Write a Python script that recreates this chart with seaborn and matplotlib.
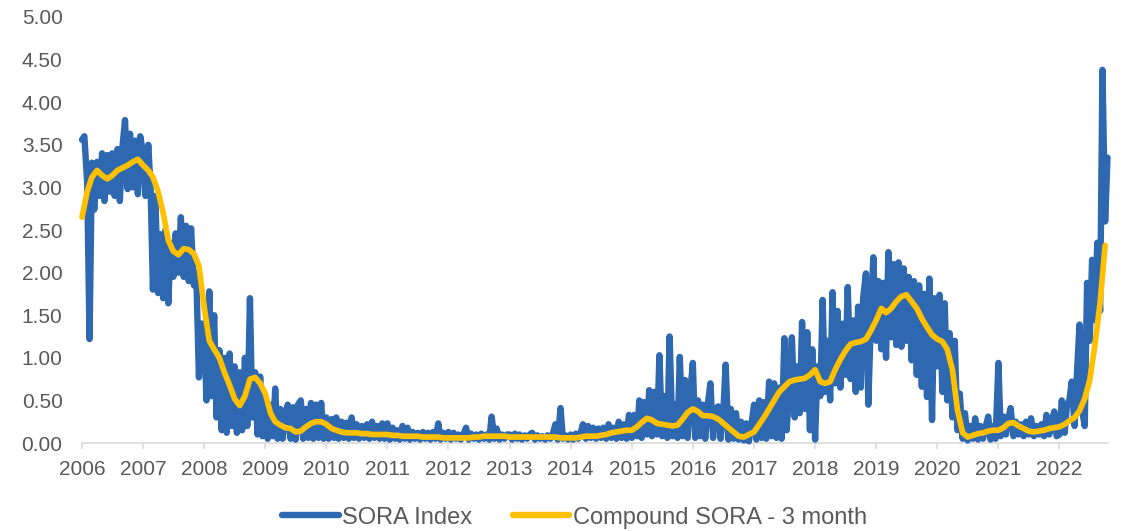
# SORA index vs compound SORA (3 month)

import pandas as pd
import numpy as np
import matplotlib.pyplot as plt
import matplotlib.dates as mdates
import seaborn as sns

# SORA index: two readings per month (1st and 15th)
sora_2006 = [3.56, 3.60, 3.05, 1.22, 3.29, 2.74, 3.30, 2.90, 3.40, 2.84, 3.38, 2.95,
             3.40, 2.90, 3.45, 2.84, 3.50, 3.79, 2.98, 3.63, 3.00, 3.55, 2.92, 3.60]
sora_2007 = [3.40, 2.90, 3.50, 3.00, 1.80, 2.90, 1.76, 2.45, 1.70, 2.50, 1.64, 2.35,
             1.95, 2.46, 2.00, 2.65, 1.95, 2.55, 1.90, 2.52, 1.85, 2.00, 0.77, 1.40]
sora_2008 = [1.40, 0.50, 1.78, 0.55, 1.50, 0.30, 1.09, 0.15, 1.00, 0.12, 1.05, 0.20,
             0.90, 0.12, 0.83, 0.15, 1.00, 0.20, 1.70, 0.30, 0.83, 0.10, 0.78, 0.08]
sora_2009 = [0.50, 0.05, 0.45, 0.08, 0.64, 0.05, 0.40, 0.05, 0.35, 0.45, 0.05, 0.42,
             0.04, 0.45, 0.50, 0.05, 0.40, 0.06, 0.47, 0.05, 0.45, 0.06, 0.47, 0.05]
sora_2010 = [0.30, 0.05, 0.28, 0.06, 0.30, 0.05, 0.25, 0.06, 0.24, 0.05, 0.30, 0.06,
             0.22, 0.05, 0.20, 0.06, 0.22, 0.05, 0.25, 0.06, 0.20, 0.05, 0.23, 0.05]
sora_2011 = [0.23, 0.04, 0.18, 0.05, 0.15, 0.04, 0.20, 0.05, 0.18, 0.04, 0.13, 0.05,
             0.12, 0.04, 0.13, 0.05, 0.12, 0.04, 0.13, 0.05, 0.23, 0.04, 0.12, 0.05]
sora_2012 = [0.13, 0.04, 0.12, 0.05, 0.10, 0.04, 0.11, 0.18, 0.04, 0.11, 0.05, 0.10,
             0.04, 0.11, 0.05, 0.10, 0.04, 0.31, 0.05, 0.17, 0.04, 0.10, 0.05, 0.10]
sora_2013 = [0.10, 0.04, 0.11, 0.05, 0.10, 0.04, 0.09, 0.05, 0.10, 0.12, 0.04, 0.09,
             0.05, 0.08, 0.04, 0.09, 0.05, 0.10, 0.22, 0.04, 0.41, 0.05, 0.09, 0.04]
sora_2014 = [0.10, 0.04, 0.11, 0.05, 0.12, 0.22, 0.05, 0.20, 0.06, 0.18, 0.05, 0.17,
             0.06, 0.18, 0.05, 0.22, 0.06, 0.18, 0.05, 0.25, 0.06, 0.22, 0.05, 0.33]
sora_2015 = [0.06, 0.33, 0.08, 0.50, 0.06, 0.48, 0.10, 0.62, 0.08, 0.60, 0.10, 1.03,
             0.08, 0.55, 0.06, 1.25, 0.08, 0.45, 0.06, 1.01, 0.08, 0.74, 0.06, 0.55]
sora_2016 = [0.94, 0.06, 0.50, 0.08, 0.45, 0.05, 0.48, 0.70, 0.06, 0.40, 0.43, 0.05,
             0.35, 0.92, 0.04, 0.40, 0.05, 0.35, 0.04, 0.25, 0.03, 0.23, 0.02, 0.20]
sora_2017 = [0.45, 0.04, 0.50, 0.06, 0.48, 0.05, 0.72, 0.08, 0.70, 0.06, 0.65, 0.05,
             1.23, 0.15, 0.70, 1.24, 0.30, 0.90, 0.35, 1.42, 0.40, 1.30, 0.15, 1.10]
sora_2018 = [0.04, 0.90, 0.55, 1.68, 0.60, 1.20, 0.50, 1.77, 0.70, 1.55, 0.65, 1.40,
             0.80, 1.83, 0.75, 1.44, 0.60, 1.60, 0.65, 1.70, 1.99, 0.45, 1.50, 2.18]
sora_2019 = [1.20, 1.90, 1.10, 1.88, 1.00, 2.24, 1.24, 2.10, 1.15, 2.12, 1.13, 2.05,
             1.20, 1.95, 0.97, 1.90, 0.80, 1.85, 0.66, 1.75, 0.54, 1.93, 0.27, 1.70]
sora_2020 = [0.90, 1.74, 0.60, 1.64, 0.50, 1.29, 0.30, 1.20, 0.15, 0.58, 0.05, 0.35,
             0.03, 0.20, 0.05, 0.29, 0.04, 0.20, 0.05, 0.18, 0.31, 0.04, 0.20, 0.05]
sora_2021 = [0.94, 0.08, 0.31, 0.10, 0.28, 0.41, 0.08, 0.25, 0.10, 0.22, 0.08, 0.25,
             0.10, 0.29, 0.08, 0.20, 0.10, 0.22, 0.08, 0.33, 0.10, 0.25, 0.37, 0.08]
sora_2022 = [0.10, 0.50, 0.12, 0.45, 0.50, 0.72, 0.20, 0.80, 1.39, 0.40,
             0.20, 1.88, 1.20, 2.15, 1.44, 2.35, 1.55, 4.38, 2.60, 3.35]

# Compound SORA - 3 month, one reading per month
comp_2006 = [2.65, 2.95, 3.12, 3.20, 3.14, 3.10, 3.14, 3.20, 3.23, 3.26, 3.30, 3.33]
comp_2007 = [3.26, 3.20, 3.12, 2.95, 2.70, 2.38, 2.25, 2.21, 2.28, 2.27, 2.22, 2.08]
comp_2008 = [1.60, 1.20, 1.10, 1.00, 0.83, 0.68, 0.52, 0.44, 0.55, 0.75, 0.77, 0.70]
comp_2009 = [0.58, 0.35, 0.25, 0.21, 0.18, 0.17, 0.13, 0.14, 0.19, 0.23, 0.25, 0.25]
comp_2010 = [0.22, 0.17, 0.15, 0.13, 0.12, 0.12, 0.12, 0.11, 0.11, 0.10, 0.10, 0.10]
comp_2011 = [0.10, 0.09, 0.09, 0.08, 0.08, 0.08, 0.08, 0.07, 0.07, 0.07, 0.07, 0.06]
comp_2012 = [0.06, 0.06, 0.06, 0.06, 0.06, 0.07, 0.07, 0.08, 0.08, 0.08, 0.08, 0.08]
comp_2013 = [0.07, 0.07, 0.07, 0.07, 0.07, 0.07, 0.07, 0.07, 0.07, 0.07, 0.06, 0.06]
comp_2014 = [0.06, 0.06, 0.07, 0.08, 0.08, 0.08, 0.09, 0.10, 0.12, 0.13, 0.14, 0.15]
comp_2015 = [0.15, 0.19, 0.24, 0.29, 0.27, 0.23, 0.22, 0.21, 0.20, 0.21, 0.28, 0.36]
comp_2016 = [0.40, 0.37, 0.32, 0.32, 0.31, 0.28, 0.23, 0.18, 0.13, 0.08, 0.07, 0.10]
comp_2017 = [0.13, 0.22, 0.30, 0.40, 0.50, 0.60, 0.66, 0.72, 0.74, 0.75, 0.76, 0.80]
comp_2018 = [0.86, 0.72, 0.70, 0.72, 0.86, 0.98, 1.08, 1.16, 1.18, 1.19, 1.22, 1.32]
comp_2019 = [1.44, 1.58, 1.53, 1.58, 1.66, 1.72, 1.74, 1.66, 1.58, 1.46, 1.36, 1.27]
comp_2020 = [1.22, 1.19, 1.10, 0.86, 0.39, 0.12, 0.07, 0.09, 0.11, 0.12, 0.14, 0.15]
comp_2021 = [0.15, 0.18, 0.23, 0.24, 0.20, 0.17, 0.14, 0.13, 0.14, 0.15, 0.17, 0.18]
comp_2022 = [0.19, 0.22, 0.26, 0.30, 0.38, 0.52, 0.74, 1.15, 1.65, 2.32]

sora_years = [sora_2006, sora_2007, sora_2008, sora_2009, sora_2010, sora_2011,
              sora_2012, sora_2013, sora_2014, sora_2015, sora_2016, sora_2017,
              sora_2018, sora_2019, sora_2020, sora_2021, sora_2022]
comp_years = [comp_2006, comp_2007, comp_2008, comp_2009, comp_2010, comp_2011,
              comp_2012, comp_2013, comp_2014, comp_2015, comp_2016, comp_2017,
              comp_2018, comp_2019, comp_2020, comp_2021, comp_2022]

sora_vals = [v for yr in sora_years for v in yr]
comp_vals = [v for yr in comp_years for v in yr]

sora = pd.DataFrame({
    'Date': pd.date_range('2006-01-01', periods=len(sora_vals), freq='SMS'),
    'Rate': sora_vals,
})
comp = pd.DataFrame({
    'Date': pd.date_range('2006-01-01', periods=len(comp_vals), freq='MS'),
    'Rate': comp_vals,
})

sns.set_style('white')
plt.rcParams['font.family'] = ['Liberation Sans', 'DejaVu Sans']

blue = '#2E68B0'
gold = '#FFC000'
grey_text = '#595959'
axis_grey = '#D9D9D9'

fig = plt.figure(figsize=(11.22, 5.31), dpi=100)
ax = fig.add_axes([0.0731, 0.1657, 0.9144, 0.8023])

line_kw = dict(solid_capstyle='round', solid_joinstyle='round', clip_on=False)
sns.lineplot(data=sora, x='Date', y='Rate', ax=ax, color=blue, linewidth=4.6,
             label='SORA Index', estimator=None, **line_kw)
sns.lineplot(data=comp, x='Date', y='Rate', ax=ax, color=gold, linewidth=4.1,
             label='Compound SORA - 3 month', estimator=None, **line_kw)

ax.set_xlim(pd.Timestamp('2006-01-01'), pd.Timestamp('2022-10-18'))
ax.set_ylim(0, 5)
ax.set_yticks(np.arange(0, 5.01, 0.5))
ax.yaxis.set_major_formatter(plt.FormatStrFormatter('%.2f'))
ax.xaxis.set_major_locator(mdates.YearLocator())
ax.xaxis.set_major_formatter(mdates.DateFormatter('%Y'))
ax.set_xlabel('')
ax.set_ylabel('')

for side in ['top', 'right', 'left']:
    ax.spines[side].set_visible(False)
ax.spines['bottom'].set_color(axis_grey)
ax.spines['bottom'].set_linewidth(1.2)
ax.spines['bottom'].set_zorder(0)

ax.tick_params(axis='x', direction='out', length=4.5, width=1.2, color=axis_grey,
               labelsize=15, labelcolor=grey_text, pad=8, bottom=True)
ax.tick_params(axis='y', length=0, labelsize=15, labelcolor=grey_text, pad=14)

ax.legend(loc='center', bbox_to_anchor=(0.512, 0.025), bbox_transform=fig.transFigure,
          ncol=2, frameon=False, fontsize=17, labelcolor=grey_text,
          handlelength=2.4, handletextpad=0.15, columnspacing=1.7)
for h in ax.get_legend().get_lines():
    h.set_linewidth(4.6)

fig.savefig('out.png', dpi=100)
